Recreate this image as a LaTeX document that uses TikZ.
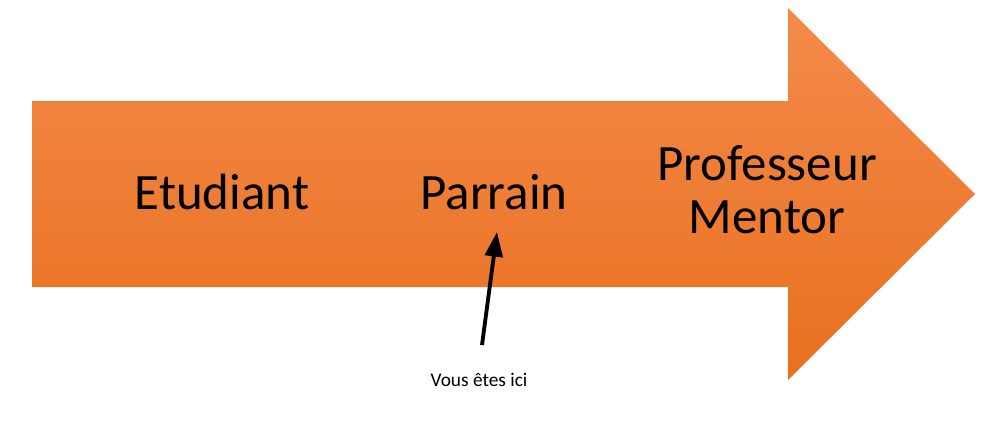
\documentclass[tikz,border=0pt]{standalone}
\usepackage{fontspec}
\setmainfont{Carlito}
\usetikzlibrary{arrows.meta}
\definecolor{orangetop}{HTML}{F48A4B}
\definecolor{orangebot}{HTML}{E8701E}
\tikzset{
  stage/.style={font=\fontsize{29}{34}\selectfont, align=center, text=black},
  pointer/.style={-{Triangle[length=14pt,width=10pt]}, line width=2.2pt}
}
\begin{document}
\begin{tikzpicture}[x=0.02cm, y=-0.02cm]

    % Canvas
    \useasboundingbox (0,0) rectangle (982,439);

    % Big arrow
    \shade[top color=orangetop, bottom color=orangebot]
      (32,101) -- (788,101) -- (788,8) -- (975,194) -- (788,380)
      -- (788,287) -- (32,287) -- cycle;

    % Stages
    \node[stage] (etudiant) at (222,192) {Etudiant};
    \node[stage] (parrain) at (494,192) {Parrain};
    \node[stage] (mentor) at (767,190) {Professeur\\[-4pt]Mentor};

    % You are here
    \node[font=\fontsize{11}{13}\selectfont] (ici) at (479,380) {Vous êtes ici};
    \coordinate (tail) at (482,345);
    \coordinate (head) at (497,232);
    \draw[pointer] (tail) -- (head);

\end{tikzpicture}
\end{document}
